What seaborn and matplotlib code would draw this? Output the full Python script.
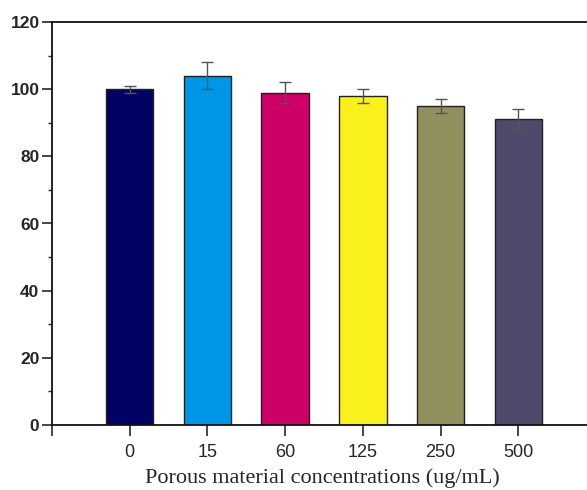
import matplotlib
matplotlib.use("Agg")
import matplotlib.pyplot as plt
import seaborn as sns
import pandas as pd
from matplotlib.ticker import MultipleLocator

categories = ["0", "15", "60", "125", "250", "500"]
values = [100, 104, 99, 98, 95, 91]
errors = [1, 4, 3, 2, 2, 3]
colors = ["#020262", "#0096e8", "#cc0066", "#faf01c", "#928f5e", "#4f4a6b"]

df = pd.DataFrame({"conc": categories, "val": values})

sns.set_style("ticks")
plt.rcParams["font.family"] = ["Liberation Sans", "DejaVu Sans"]
fig = plt.figure(figsize=(5.87, 4.9), dpi=100)
fig.patch.set_facecolor("white")
ax = fig.add_axes([52/587, 65/490, 1 - 52/587 + 0.01, (425-22)/490])

sns.barplot(data=df, x="conc", y="val", hue="conc", palette=colors, legend=False,
            errorbar=None, width=0.61, saturation=1, edgecolor="#222222",
            linewidth=1.0, ax=ax)
ax.errorbar(range(len(categories)), values, yerr=errors, fmt="none",
            ecolor="#555555", elinewidth=1.0, capsize=4, capthick=1.0)

ax.set_xlim(-1, 5.96)
ax.set_ylim(0, 120)
ax.yaxis.set_major_locator(MultipleLocator(20))
ax.yaxis.set_minor_locator(MultipleLocator(10))
ax.set_xticks(range(-1, 6))
ax.set_xticklabels([""] + categories)

for s in ["left", "bottom", "top"]:
    ax.spines[s].set_linewidth(1.3)
    ax.spines[s].set_color("#111111")
ax.spines["right"].set_visible(False)

ax.tick_params(axis="y", which="major", direction="out", length=7, width=1.2,
               labelsize=12.5, pad=2)
ax.tick_params(axis="y", which="minor", direction="out", length=3, width=1.0)
ax.tick_params(axis="x", which="major", direction="out", length=8, width=1.2,
               labelsize=13, pad=6)
for lab in ax.get_yticklabels():
    lab.set_fontweight("bold")

ax.set_ylabel("")
ax.set_xlabel("Porous material concentrations (ug/mL)", fontsize=16,
              fontfamily="Liberation Serif", labelpad=5)

fig.savefig("out.png", dpi=100, facecolor="white")
